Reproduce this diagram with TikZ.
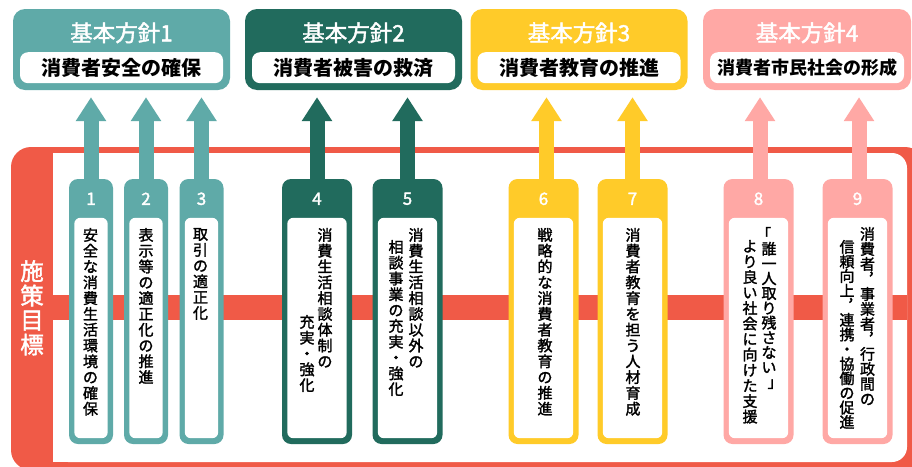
\documentclass[tikz,border=0pt]{standalone}
\usepackage{fontspec}
\setmainfont{Noto Sans CJK JP}
\newfontfamily\medfont{Noto Sans CJK JP}[FakeBold=1.8]
\usetikzlibrary{arrows.meta,calc}
\definecolor{cA}{HTML}{5FAAA8}
\definecolor{cB}{HTML}{216B5D}
\definecolor{cC}{HTML}{FFCB29}
\definecolor{cD}{HTML}{FFA8A5}
\definecolor{cR}{HTML}{F05A47}
\newcommand\vcm{︐}
\newcommand\vop{\makebox[1em][l]{\kern-0.35em 「}}
\newcommand\vcl{\makebox[1em][l]{\kern0.4em 」}}
\begin{document}
\begin{tikzpicture}[x=1pt,y=-1pt,
  hdr/.style={rounded corners=12, minimum width=217, minimum height=81, inner sep=0},
  ttl/.style={text=white, font=\medfont\fontsize{22.5}{24}\selectfont, inner sep=0},
  sub/.style={fill=white, rounded corners=8, minimum width=203, minimum height=31, inner sep=0, font=\bfseries\fontsize{20}{22}\selectfont},
  card/.style={rounded corners=9, minimum height=265, inner sep=0},
  narrow/.style={card, minimum width=44},
  wide/.style={card, minimum width=70},
  num/.style={text=white, font=\medfont\fontsize{17}{18}\selectfont, inner sep=0},
  vt/.style={anchor=north, align=center, inner sep=0, font=\medfont\fontsize{15}{15.8}\selectfont},
  arr/.style={line width=15, -{Triangle[width=29pt,length=24pt]}, shorten >=7pt},
]
\useasboundingbox (0,0) rectangle (912,466);
\fill[white] (0,0) rectangle (912,466);

% frame
\fill[cR, rounded corners=20] (11,147) rectangle (925,470);
\fill[white, rounded corners=15] (53,153) rectangle (907,462);
\fill[white] (53,153) rectangle (120,462);
\fill[cR] (53,295) rectangle (907,320);
\node[text=white, align=center, anchor=north, inner sep=0, font=\medfont\fontsize{23.5}{24.5}\selectfont] (goal) at (32,260) {施\\策\\目\\標};

% headers
\node[hdr, fill=cA] (h1) at (121.5,49.5) {};
\node[hdr, fill=cB] (h2) at (353.5,49.5) {};
\node[hdr, fill=cC] (h3) at (579,49.5) {};
\node[hdr, fill=cD, minimum width=208] (h4) at (807,49.5) {};
\node[ttl] (ht1) at ($(h1.north)+(0,24)$) {基本方針1};
\node[ttl] (ht2) at ($(h2.north)+(0,24)$) {基本方針2};
\node[ttl] (ht3) at ($(h3.north)+(0,24)$) {基本方針3};
\node[ttl] (ht4) at ($(h4.north)+(0,24)$) {基本方針4};
\node[sub] (hs1) at ($(h1.south)+(0,-22.5)$) {消費者安全の確保};
\node[sub] (hs2) at ($(h2.south)+(0,-22.5)$) {消費者被害の救済};
\node[sub] (hs3) at ($(h3.south)+(0,-22.5)$) {消費者教育の推進};
\node[sub, minimum width=194, font=\bfseries\fontsize{18}{20}\selectfont] (hs4) at ($(h4.south)+(0,-22.5)$) {消費者市民社会の形成};

% cards
\node[narrow, fill=cA] (c1) at (91,311.5) {};
\node[narrow, fill=cA] (c2) at (146,311.5) {};
\node[narrow, fill=cA] (c3) at (201.5,311.5) {};
\node[wide, fill=cB] (c4) at (317,311.5) {};
\node[wide, fill=cB] (c5) at (407.5,311.5) {};
\node[wide, fill=cC] (c6) at (543.5,311.5) {};
\node[wide, fill=cC] (c7) at (632.5,311.5) {};
\node[wide, fill=cD] (c8) at (758.5,311.5) {};
\node[wide, fill=cD] (c9) at (857.5,311.5) {};

% arrows
\draw[arr, cA] (c1.north) -- (c1.north |- h1.south);
\draw[arr, cA] (c2.north) -- (c2.north |- h1.south);
\draw[arr, cA] (c3.north) -- (c3.north |- h1.south);
\draw[arr, cB] (c4.north) -- (c4.north |- h2.south);
\draw[arr, cB] (c5.north) -- (c5.north |- h2.south);
\draw[arr, cC] ([xshift=3pt]c6.north) -- ([xshift=3pt]c6.north |- h3.south);
\draw[arr, cC] (c7.north) -- (c7.north |- h3.south);
\draw[arr, cD] ([xshift=1.5pt]c8.north) -- ([xshift=1.5pt]c8.north |- h4.south);
\draw[arr, cD] ([xshift=1.5pt]c9.north) -- ([xshift=1.5pt]c9.north |- h4.south);

% card interiors and numbers
\foreach \c/\n in {c1/1,c2/2,c3/3,c4/4,c5/5,c6/6,c7/7,c8/8,c9/9}{
  \fill[white, rounded corners=6] ($(\c.north west)+(5.5,39)$) rectangle ($(\c.south east)+(-5.5,-6)$);
  \node[num] (n\n) at ($(\c.north)+(0,20)$) {\n};
}

% vertical texts
\node[vt] (t1) at ($(c1.north)+(-0.5,49)$) {安\\全\\な\\消\\費\\生\\活\\環\\境\\の\\確\\保};
\node[vt] (t2) at ($(c2.north)+(0,49)$) {表\\示\\等\\の\\適\\正\\化\\の\\推\\進};
\node[vt] (t3) at ($(c3.north)+(-1,49)$) {取\\引\\の\\適\\正\\化};
\node[vt] (t4a) at ($(c4.north)+(8,49)$) {消\\費\\生\\活\\相\\談\\体\\制\\の};
\node[vt] (t4b) at ($(c4.north)+(-10,136)$) {充\\実\\・\\強\\化};
\node[vt] (t5a) at ($(c5.north)+(8.5,49)$) {消\\費\\生\\活\\相\\談\\以\\外\\の};
\node[vt] (t5b) at ($(c5.north)+(-11.5,61)$) {相\\談\\事\\業\\の\\充\\実\\・\\強\\化};
\node[vt] (t6) at ($(c6.north)+(1.5,49)$) {戦\\略\\的\\な\\消\\費\\者\\教\\育\\の\\推\\進};
\node[vt] (t7) at ($(c7.north)+(0.5,49)$) {消\\費\\者\\教\\育\\を\\担\\う\\人\\材\\育\\成};
\node[vt, font=\medfont\fontsize{15}{14.8}\selectfont] (t8a) at ($(c8.north)+(10.5,48)$) {\vop\\誰\\一\\人\\取\\り\\残\\さ\\な\\い\\\vcl};
\node[vt, font=\medfont\fontsize{15}{15.5}\selectfont] (t8b) at ($(c8.north)+(-8.5,61)$) {よ\\り\\良\\い\\社\\会\\に\\向\\け\\た\\支\\援};
\node[vt, font=\medfont\fontsize{15}{15}\selectfont] (t9a) at ($(c9.north)+(10,48)$) {消\\費\\者\\\vcm\\事\\業\\者\\\vcm\\行\\政\\間\\の};
\node[vt, font=\medfont\fontsize{15}{14.6}\selectfont] (t9b) at ($(c9.north)+(-10.5,61)$) {信\\頼\\向\\上\\\vcm\\連\\携\\・\\協\\働\\の\\促\\進};
\end{tikzpicture}
\end{document}
